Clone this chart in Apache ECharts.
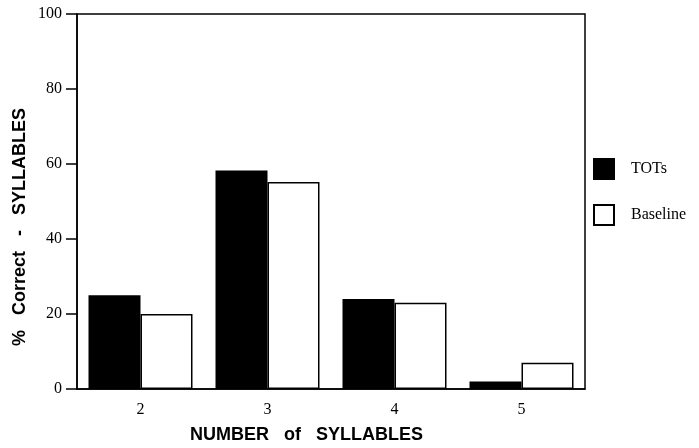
<!DOCTYPE html>
<html>
<head>
<meta charset="utf-8">
<script src="https://cdn.jsdelivr.net/npm/echarts@6/dist/echarts.min.js"></script>
<style>html,body{margin:0;padding:0;background:#fff}#c{width:699px;height:448px}</style>
</head>
<body>
<div id="c"></div>
<script>
var categories = ['2', '3', '4', '5'];
var tots = [25, 58.3, 24, 2];
var baseline = [20, 55.2, 23, 7];
var yTicks = [0, 20, 40, 60, 80, 100];

var chart = echarts.init(document.getElementById('c'));
var serif = '"Liberation Serif", "Times New Roman", serif';
var sans = '"Liberation Sans", Arial, sans-serif';
chart.setOption({
  animation: false,
  backgroundColor: '#fff',
  grid: {left: 77, top: 14, right: 114, bottom: 59, show: true, borderColor: '#000', borderWidth: 1.5},
  legend: {
    orient: 'vertical', left: 588, top: 153, itemWidth: 20, itemHeight: 20, itemGap: 24,
    icon: 'rect',
    textStyle: {fontFamily: serif, fontSize: 16, color: '#000', padding: [0, 0, 0, 12]},
    data: ['TOTs', 'Baseline']
  },
  xAxis: {
    type: 'category', data: categories,
    axisLine: {lineStyle: {color: '#000', width: 1.5}},
    axisTick: {alignWithLabel: true, length: 10, lineStyle: {color: '#000', width: 1.5}},
    axisLabel: {fontFamily: serif, fontSize: 16, color: '#000', margin: 13}
  },
  yAxis: {
    type: 'value', min: 0, max: 100, interval: 20,
    splitLine: {show: false},
    axisLine: {show: true, lineStyle: {color: '#000', width: 1.5}},
    axisTick: {show: true, length: 11, lineStyle: {color: '#000', width: 1.5}},
    axisLabel: {fontFamily: serif, fontSize: 16, color: '#000', margin: 15,
      formatter: function (v) { return yTicks.indexOf(v) >= 0 ? String(v) : ''; }}
  },
  series: [
    {name: 'TOTs', type: 'bar', data: tots, barWidth: 52, barGap: '0%',
     itemStyle: {color: '#000', borderColor: '#000', borderWidth: 2}},
    {name: 'Baseline', type: 'bar', data: baseline, barWidth: 52, barGap: '0%',
     itemStyle: {color: '#fff', borderColor: '#000', borderWidth: 1.5}}
  ],
  graphic: [
    {type: 'text', left: 190, top: 426,
     style: {text: 'NUMBER   of   SYLLABLES', font: 'bold 18px ' + sans, fill: '#000'}},
    {type: 'text', x: 11, y: 346, rotation: Math.PI / 2,
     style: {text: '%   Correct   -   SYLLABLES', font: 'bold 18px ' + sans, fill: '#000', textAlign: 'left', textVerticalAlign: 'top'}}
  ]
});
</script>
</body>
</html>
